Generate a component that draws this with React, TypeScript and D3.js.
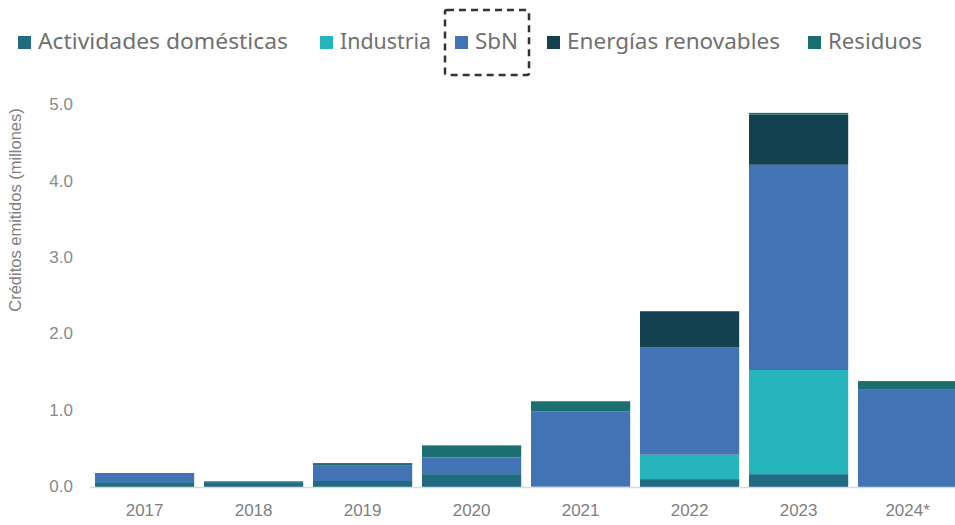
import React from "react";
import * as d3 from "d3";

const years = ["2017", "2018", "2019", "2020", "2021", "2022", "2023", "2024*"];
const seriesNames = ["Actividades domésticas", "Industria", "SbN", "Energías renovables", "Residuos"];
const actividades = [0.07, 0.07, 0.085, 0.175, 0.01, 0.11, 0.175, 0.0];
const industria = [0, 0, 0, 0, 0, 0.32, 1.365, 0];
const sbn = [0.12, 0.01, 0.2, 0.22, 0.99, 1.41, 2.69, 1.29];
const energias = [0, 0, 0, 0, 0, 0.47, 0.66, 0];
const residuos = [0, 0.005, 0.035, 0.157, 0.13, 0, 0.02, 0.105];
const yTicks = [0, 1, 2, 3, 4, 5];
const colors = ["#216b80", "#27b5bd", "#4274b5", "#144150", "#1b6f70"];
const legendX = [18, 320, 455, 547, 808];
const legendW = [250, 91, 43, 213, 94];

export default function App() {
  const W = 955, H = 525;
  const data = years.map((y, i) => ({
    year: y,
    s0: actividades[i], s1: industria[i], s2: sbn[i], s3: energias[i], s4: residuos[i],
  }));
  const keys = ["s0", "s1", "s2", "s3", "s4"];
  const stacked = d3.stack<any>().keys(keys)(data);
  const x = d3.scaleBand().domain(years).range([90.1, 962.1]).paddingInner(0.09).paddingOuter(0.045);
  const y = d3.scaleLinear().domain([0, 5]).range([487.5, 106]);
  const tickFont = "'Liberation Sans', Arial, sans-serif";
  return (
    <svg width={W} height={H} style={{ position: "absolute", left: 0, top: 0, background: "#fff" }}>
      {/* legend */}
      {seriesNames.map((n, i) => (
        <g key={n} transform={`translate(${legendX[i]},0)`}>
          <rect x={0} y={36} width={13} height={13} fill={colors[i]} />
          <text x={20} y={43} dominantBaseline="middle" fontFamily="'Noto Sans', sans-serif" fontSize={22}
            fill="#707070" textLength={legendW[i]} lengthAdjust="spacingAndGlyphs">{n}</text>
        </g>
      ))}
      <rect x={445} y={10} width={84} height={65} rx={2} fill="none" stroke="#333" strokeWidth={2.5} strokeDasharray="7,5" />
      {/* y axis title */}
      <text transform="translate(17,210) rotate(-90)" textAnchor="middle" dominantBaseline="middle" fontFamily={tickFont} fontSize={16.5} fill="#7f7f7f">Créditos emitidos (millones)</text>
      {/* y ticks */}
      {yTicks.map(t => (
        <text key={t} x={73} y={y(t)} textAnchor="end" dominantBaseline="middle" fontFamily={tickFont} fontSize={17} fill="#8a8a8a">{d3.format(".1f")(t)}</text>
      ))}
      {/* bars */}
      {stacked.map((s, si) => (
        <g key={si} fill={colors[si]}>
          {s.map((d, i) => (
            d[1] - d[0] > 0 ? (
              <rect key={i} x={x(years[i])} width={x.bandwidth()} y={y(d[1])} height={y(d[0]) - y(d[1])} />
            ) : null
          ))}
        </g>
      ))}
      <line x1={90} x2={955} y1={487.5} y2={487.5} stroke="#d9d9d9" strokeWidth={1.5} />
      {/* x labels */}
      {years.map(yr => (
        <text key={yr} x={(x(yr) as number) + x.bandwidth() / 2} y={512} textAnchor="middle" dominantBaseline="middle" fontFamily={tickFont} fontSize={17} fill="#7f7f7f">{yr}</text>
      ))}
    </svg>
  );
}
